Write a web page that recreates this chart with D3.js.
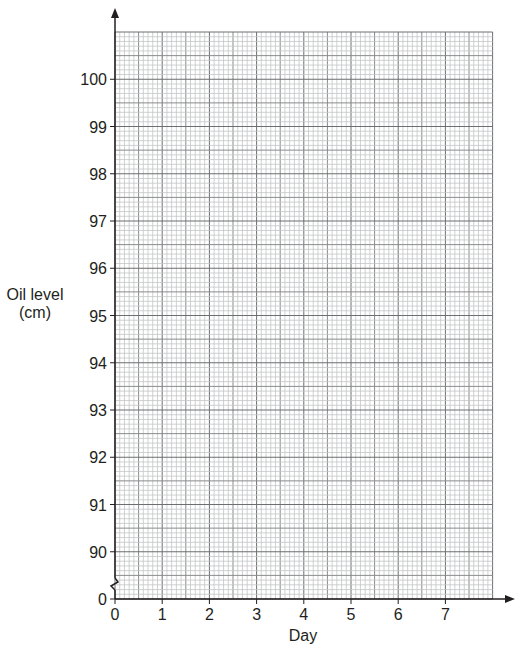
<!DOCTYPE html>
<html><head><meta charset="utf-8">
<script src="https://cdn.jsdelivr.net/npm/d3@7"></script>
<style>body{margin:0;background:#fff}text{font-family:"Liberation Sans",Arial,sans-serif;fill:#231f20}</style>
</head><body><svg id="c" width="525" height="652"></svg>
<script>
const xTicks=[0,1,2,3,4,5,6,7];
const yTicks=[90,91,92,93,94,95,96,97,98,99,100];
const yBottomLabel="0";
const xLabel="Day";
const yLabel=["Oil level","(cm)"];
const svg=d3.select("#c");
const x0=115,y0=599;
const x=d3.scaleLinear().domain([0,8]).range([x0,x0+8*47.2]);
const y=d3.scaleLinear().domain([89,101]).range([y0,y0-12*47.25]);
const g=svg.append("g");
const minors=d3.range(0,81).map(i=>i/10);
minors.forEach(v=>{const k=Math.round(v*10);
 g.append("line").attr("x1",x(v)).attr("x2",x(v)).attr("y1",y(89)).attr("y2",y(101))
  .attr("stroke",k%10==0?"#6d6e71":k%5==0?"#8a8b8d":"#c4c5c7").attr("stroke-width",k%5==0?1:0.8);});
d3.range(0,121).map(i=>89+i/10).forEach((v,i)=>{
 g.append("line").attr("y1",y(v)).attr("y2",y(v)).attr("x1",x(0)).attr("x2",x(8))
  .attr("stroke",i%10==0?"#6d6e71":i%5==0?"#8a8b8d":"#c4c5c7").attr("stroke-width",i%5==0?1:0.8);});
// axes
svg.append("line").attr("x1",x0).attr("x2",x0).attr("y1",y0).attr("y2",590).attr("stroke","#231f20").attr("stroke-width",1.5);
svg.append("path").attr("d",`M${x0},590 l-4,-4 l7,-4 l-3,-4`).attr("fill","none").attr("stroke","#231f20").attr("stroke-width",1.5);
svg.append("line").attr("x1",x0).attr("x2",x0).attr("y1",578).attr("y2",14).attr("stroke","#231f20").attr("stroke-width",1.5);
svg.append("path").attr("d",`M${x0},8 l-4,10 l8,0 z`).attr("fill","#231f20");
svg.append("line").attr("x1",x0).attr("x2",508).attr("y1",y0).attr("y2",y0).attr("stroke","#231f20").attr("stroke-width",1.5);
svg.append("path").attr("d",`M515,${y0} l-10,-4 l0,8 z`).attr("fill","#231f20");
// ticks
xTicks.forEach(t=>{svg.append("line").attr("x1",x(t)).attr("x2",x(t)).attr("y1",y0).attr("y2",y0+5).attr("stroke","#231f20");
 svg.append("text").attr("x",x(t)).attr("y",y0+21).attr("text-anchor","middle").attr("font-size",16).text(t);});
yTicks.forEach(t=>{svg.append("line").attr("x1",x0-5).attr("x2",x0).attr("y1",y(t)).attr("y2",y(t)).attr("stroke","#231f20");
 svg.append("text").attr("x",x0-8).attr("y",y(t)+6).attr("text-anchor","end").attr("font-size",16).text(t);});
svg.append("line").attr("x1",x0-5).attr("x2",x0).attr("y1",y0).attr("y2",y0).attr("stroke","#231f20");
svg.append("text").attr("x",x0-8).attr("y",y0+6).attr("text-anchor","end").attr("font-size",16).text(yBottomLabel);
svg.append("text").attr("x",303).attr("y",641).attr("text-anchor","middle").attr("font-size",16).text(xLabel);
yLabel.forEach((l,i)=>svg.append("text").attr("x",35).attr("y",300+i*18).attr("text-anchor","middle").attr("font-size",16).text(l));
</script></body></html>
